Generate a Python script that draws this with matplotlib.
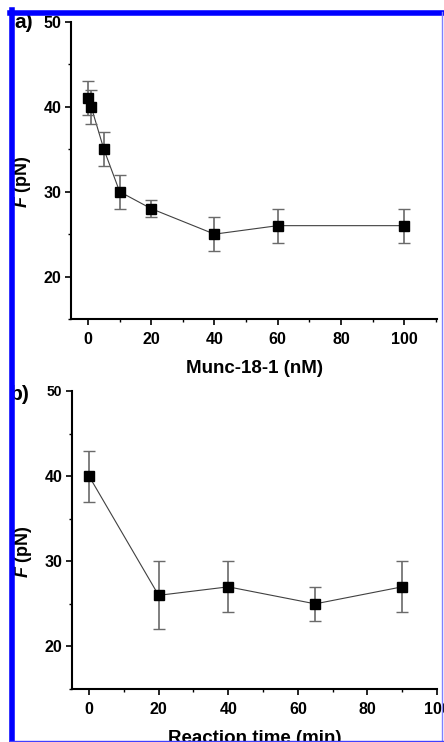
import matplotlib.pyplot as plt
from matplotlib.lines import Line2D
from matplotlib.ticker import MultipleLocator

plt.rcParams['font.family'] = ['Liberation Sans', 'DejaVu Sans']
plt.rcParams['font.weight'] = 'bold'
plt.rcParams['mathtext.fontset'] = 'custom'
plt.rcParams['mathtext.it'] = 'Liberation Sans:bold:italic'
plt.rcParams['mathtext.rm'] = 'Liberation Sans:bold'

# panel a: force vs Munc-18-1 concentration
munc_nM = [0, 1, 5, 10, 20, 40, 60, 100]
force_a = [41, 40, 35, 30, 28, 25, 26, 26]
err_a = [2, 2, 2, 2, 1, 2, 2, 2]

# panel b: force vs reaction time
time_min = [0, 20, 40, 65, 90]
force_b = [40, 26, 27, 25, 27]
err_b = [3, 4, 3, 2, 3]

W, H = 444, 742
fig = plt.figure(figsize=(W / 100, H / 100), dpi=100)
fig.patch.set_facecolor('white')


def make_axes(rect, x, y, err, xlim, xlabel):
    ax = fig.add_axes(rect)
    ax.errorbar(x, y, yerr=err, fmt='s', color='black', ms=7.5,
                ecolor='#6a6a6a', elinewidth=1.2, capsize=4, capthick=1.0,
                zorder=3)
    ax.plot(x, y, color='#404040', lw=0.8, zorder=2)
    ax.set_xlim(*xlim)
    ax.set_ylim(15, 50)
    ax.set_yticks([20, 30, 40, 50])
    ax.yaxis.set_minor_locator(MultipleLocator(5))
    ax.set_xticks([0, 20, 40, 60, 80, 100])
    ax.xaxis.set_minor_locator(MultipleLocator(10))
    for s in ['top', 'right']:
        ax.spines[s].set_visible(False)
    for s in ['left', 'bottom']:
        ax.spines[s].set_linewidth(1.5)
    ax.tick_params(which='major', direction='out', length=4, width=1.2,
                   labelsize=11.5)
    ax.tick_params(axis='x', which='major', pad=5.5)
    ax.tick_params(axis='y', which='major', pad=3)
    ax.tick_params(which='minor', direction='out', length=2.5, width=1.0)
    for lab in ax.get_xticklabels() + ax.get_yticklabels():
        lab.set_fontweight('bold')
    ax.set_xlabel(xlabel, fontsize=13.5, fontweight='bold', labelpad=9)
    ax.set_ylabel(r'$F$ (pN)', fontsize=13, fontweight='bold')
    ax.yaxis.set_label_coords(-0.104, 0.462)
    return ax


ax_a = make_axes([71 / W, 1 - 319 / H, 366 / W, 297 / H],
                 munc_nM, force_a, err_a, (-5.4, 110.4), 'Munc-18-1 (nM)')
ax_b = make_axes([72 / W, 1 - 689 / H, 365 / W, 298 / H],
                 time_min, force_b, err_b, (-4.9, 99.8), 'Reaction time (min)')
ax_b.get_yticklabels()[-1].set_fontsize(10)

fig.text(14 / W, 1 - 23 / H, 'a)', fontsize=15, fontweight='bold',
         ha='left', va='center')
fig.text(10 / W, 1 - 395 / H, 'b)', fontsize=15, fontweight='bold',
         ha='left', va='center')

# blue frame around the figure
frame = dict(transform=fig.transFigure, color='#0000ff', zorder=10)
fig.add_artist(Line2D([11.5 / W, 11.5 / W], [0, 1 - 10 / H], lw=4, **frame))
fig.add_artist(Line2D([9.5 / W, 1], [1 - 12.5 / H, 1 - 12.5 / H], lw=4, **frame))
fig.add_artist(Line2D([441.5 / W, 441.5 / W], [0, 1 - 12 / H], lw=1,
                      transform=fig.transFigure, color='#8080ff', zorder=10))
fig.add_artist(Line2D([10 / W, 1], [0.6 / H, 0.6 / H], lw=1,
                      transform=fig.transFigure, color='#4040ff', zorder=10))

fig.savefig('out.png', dpi=100)
